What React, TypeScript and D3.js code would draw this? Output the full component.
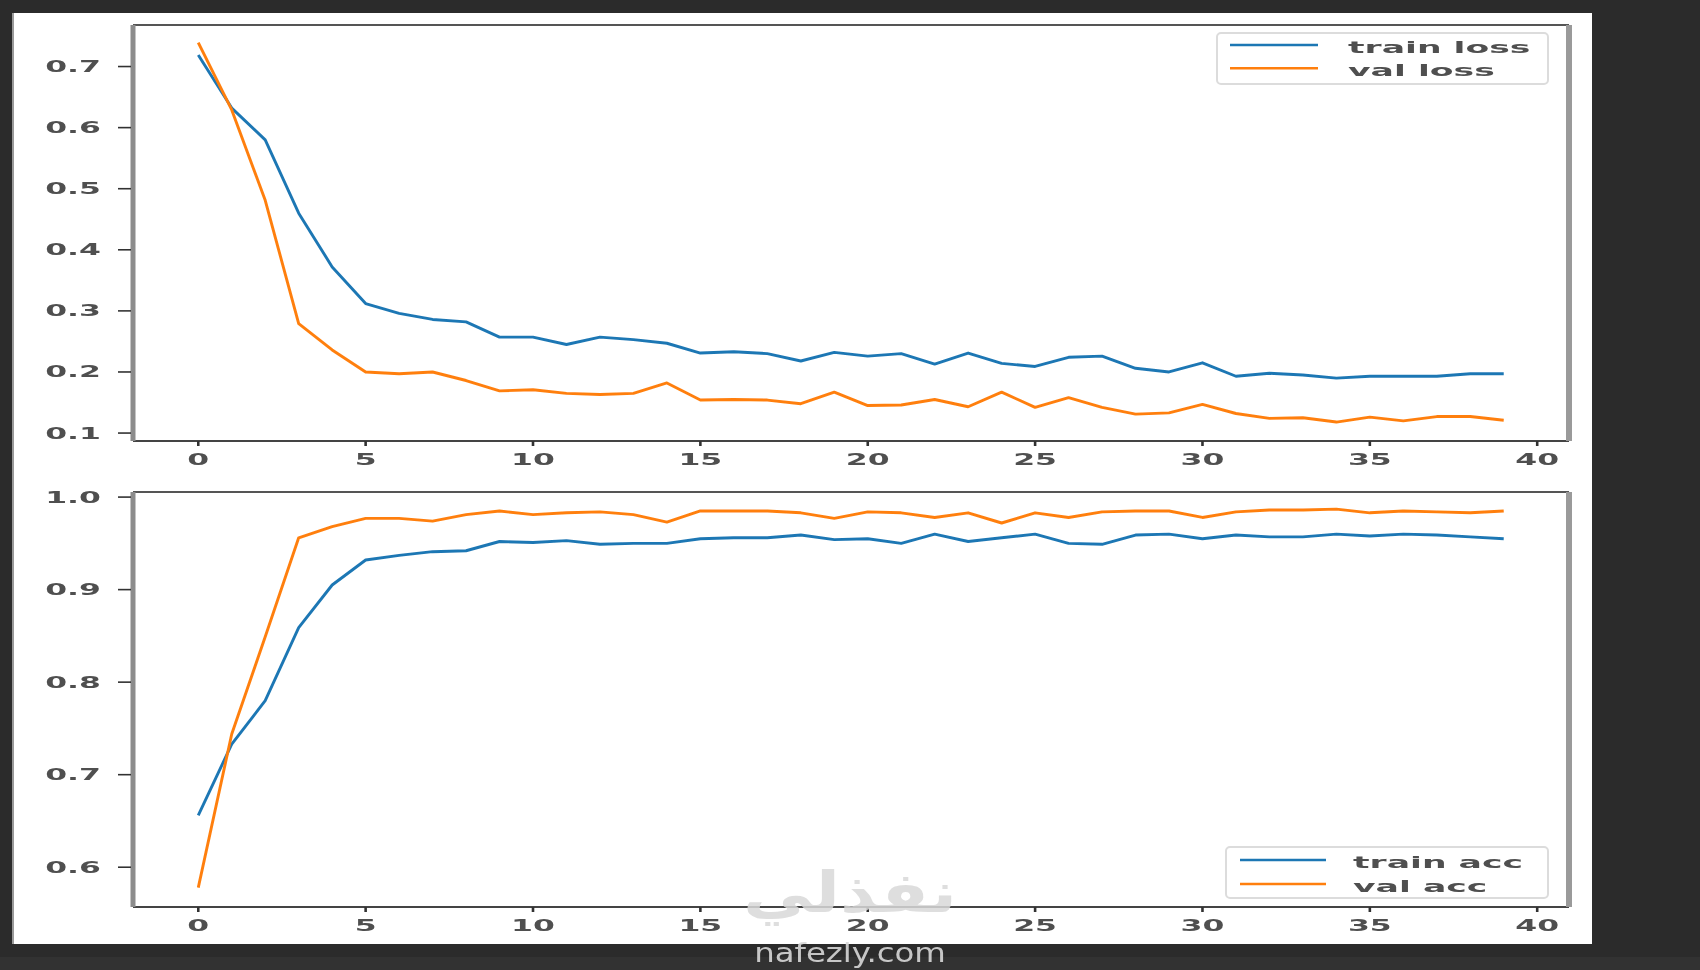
import React from 'react';
import * as d3 from 'd3';

const epochs = d3.range(40);
const trainLoss = [0.719,0.632,0.580,0.460,0.372,0.312,0.296,0.286,0.282,0.257,0.257,0.245,0.257,0.253,0.247,0.231,0.233,0.230,0.218,0.232,0.226,0.230,0.213,0.231,0.214,0.209,0.224,0.226,0.206,0.200,0.215,0.193,0.198,0.195,0.190,0.193,0.193,0.193,0.197,0.197];
const valLoss = [0.739,0.629,0.481,0.279,0.236,0.200,0.197,0.200,0.186,0.169,0.171,0.165,0.163,0.165,0.182,0.154,0.155,0.154,0.148,0.167,0.145,0.146,0.155,0.143,0.167,0.142,0.158,0.142,0.131,0.133,0.147,0.132,0.124,0.125,0.118,0.126,0.120,0.127,0.127,0.121];
const trainAcc = [0.656,0.733,0.780,0.859,0.905,0.932,0.937,0.941,0.942,0.952,0.951,0.953,0.949,0.950,0.950,0.955,0.956,0.956,0.959,0.954,0.955,0.950,0.960,0.952,0.956,0.960,0.950,0.949,0.959,0.960,0.955,0.959,0.957,0.957,0.960,0.958,0.960,0.959,0.957,0.955];
const valAcc = [0.578,0.744,0.849,0.956,0.968,0.977,0.977,0.974,0.981,0.985,0.981,0.983,0.984,0.981,0.973,0.985,0.985,0.985,0.983,0.977,0.984,0.983,0.978,0.983,0.972,0.983,0.978,0.984,0.985,0.985,0.978,0.984,0.986,0.986,0.987,0.983,0.985,0.984,0.983,0.985];

const xTicks = [0, 5, 10, 15, 20, 25, 30, 35, 40];
const lossTicks = [0.1, 0.2, 0.3, 0.4, 0.5, 0.6, 0.7];
const accTicks = [0.6, 0.7, 0.8, 0.9, 1.0];
const lossLabels = ['train loss', 'val loss'];
const accLabels = ['train acc', 'val acc'];
const watermarkAr = 'نفذلي';
const watermarkEn = 'nafezly.com';

const W = 1700;
const H = 970;
const SX = 2.1;
const BLUE = '#1f77b4';
const ORANGE = '#ff7f0e';
const TXT = '#505050';
const FONT = 'DejaVu Sans';

const FRAME_L = 133;
const FRAME_R = 1569;

const x = d3.scaleLinear().domain([-1.95, 40.95]).range([FRAME_L, FRAME_R]);

function SText(props: any) {
  const { x: tx, y: ty, anchor = 'start', size = 15, fill = TXT, weight = 'bold', sx = SX, children, opacity } = props;
  return (
    <text
      transform={`translate(${tx},${ty}) scale(${sx},1)`}
      textAnchor={anchor}
      fontSize={size}
      fontFamily={FONT}
      fontWeight={weight}
      fill={fill}
      opacity={opacity}
    >
      {children}
    </text>
  );
}

function Panel(props: any) {
  const { top, bottom, yDomain, yTicks, series, labels, legend, xLabelY } = props;
  const y = d3.scaleLinear().domain(yDomain).range([bottom, top]);
  const line = d3.line<number>().x((_, i) => x(epochs[i])).y((d) => y(d));
  const colors = [BLUE, ORANGE];
  return (
    <g>
      <g filter="url(#soft)">
        {series.map((s: number[], k: number) => (
          <path key={k} d={line(s) || ''} fill="none" stroke={colors[k]} strokeWidth={2.9} strokeLinejoin="round" />
        ))}
      </g>
      <line x1={FRAME_L} x2={FRAME_R} y1={top} y2={top} stroke="#555" strokeWidth={2} />
      <line x1={FRAME_L} x2={FRAME_R} y1={bottom} y2={bottom} stroke="#444" strokeWidth={2} />
      <line x1={FRAME_L} x2={FRAME_L} y1={top} y2={bottom} stroke="#8c8c8c" strokeWidth={5} />
      <line x1={FRAME_R} x2={FRAME_R} y1={top} y2={bottom} stroke="#9a9a9a" strokeWidth={6} />
      <g filter="url(#soft)">
        {yTicks.map((t: number) => (
          <g key={t}>
            <line x1={FRAME_L - 15} x2={FRAME_L - 2} y1={y(t)} y2={y(t)} stroke="#333" strokeWidth={1.6} />
            <SText x={101} y={y(t) + 5.5} anchor="end">{t.toFixed(1)}</SText>
          </g>
        ))}
        {xTicks.map((t) => (
          <g key={t}>
            <line x1={x(t)} x2={x(t)} y1={bottom} y2={bottom + 5} stroke="#333" strokeWidth={2.6} />
            <SText x={x(t)} y={xLabelY} anchor="middle">{String(t)}</SText>
          </g>
        ))}
      </g>
      <g filter="url(#soft)">
        <rect x={legend.x0} y={legend.y0} width={1548 - legend.x0} height={legend.h} rx={4} fill="#fff" fillOpacity={0.85} stroke="#dcdcdc" strokeWidth={2} />
        {labels.map((lab: string, k: number) => (
          <g key={lab}>
            <line x1={legend.lx0} x2={legend.lx1} y1={legend.ly[k]} y2={legend.ly[k]} stroke={colors[k]} strokeWidth={2.6} />
            <SText x={legend.tx} y={legend.ly[k] + 7.5} size={16.5}>{lab}</SText>
          </g>
        ))}
      </g>
    </g>
  );
}

export default function App() {
  return (
    <svg width={W} height={H} style={{ position: 'absolute', left: 0, top: 0, display: 'block' }}>
      <defs>
        <filter id="soft" x="-5%" y="-5%" width="110%" height="110%">
          <feGaussianBlur stdDeviation="0.6" />
        </filter>
      </defs>
      <rect x={0} y={0} width={W} height={H} fill="#2b2b2b" />
      <rect x={0} y={957} width={W} height={13} fill="#323232" />
      <rect x={12} y={13} width={1580} height={931} fill="#ffffff" />
      <line x1={13} x2={13} y1={13} y2={944} stroke="#9a9a9a" strokeWidth={2} />
      <Panel
        top={25}
        bottom={441}
        yDomain={[0.087, 0.768]}
        yTicks={lossTicks}
        series={[trainLoss, valLoss]}
        labels={lossLabels}
        xLabelY={465}
        legend={{ x0: 1217, y0: 33, h: 51, lx0: 1230, lx1: 1318, ly: [45, 68.3], tx: 1348 }}
      />
      <Panel
        top={492}
        bottom={907}
        yDomain={[0.557, 1.0055]}
        yTicks={accTicks}
        series={[trainAcc, valAcc]}
        labels={accLabels}
        xLabelY={931}
        legend={{ x0: 1226, y0: 847, h: 51, lx0: 1240, lx1: 1326, ly: [860, 884], tx: 1353 }}
      />
      <g filter="url(#soft)">
        <SText x={850} y={912} anchor="middle" size={56} sx={1.25} fill="#d9d9d9" opacity={0.85}>{watermarkAr}</SText>
        <SText x={850} y={962} anchor="middle" size={27} sx={1.2} weight="normal" fill="#d8d8d8" opacity={0.9}>{watermarkEn}</SText>
      </g>
    </svg>
  );
}
